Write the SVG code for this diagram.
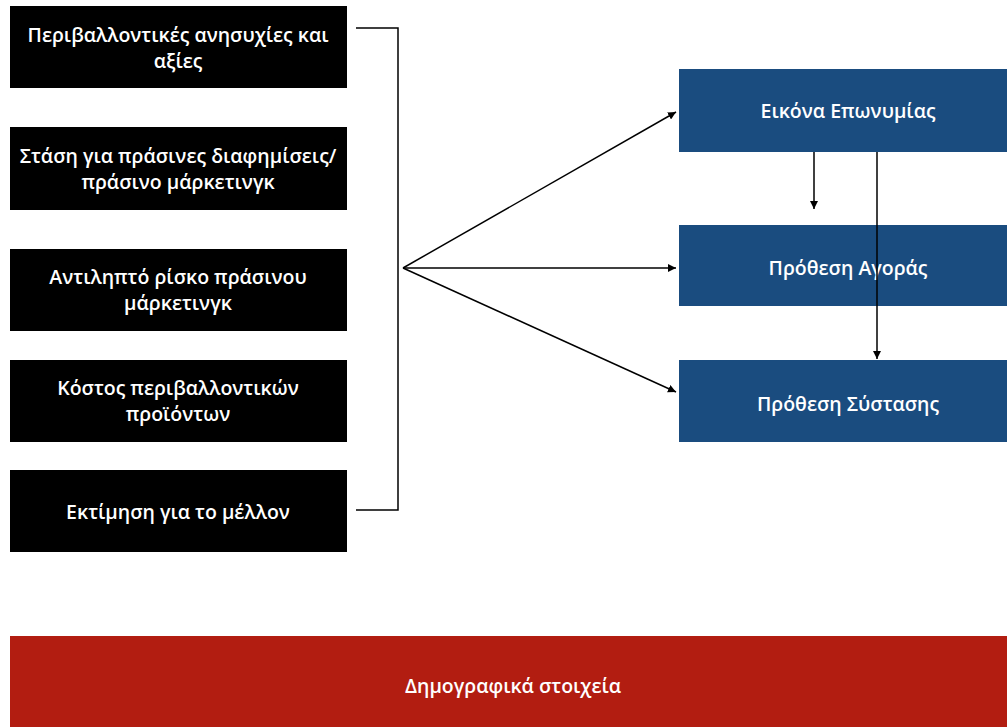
<svg xmlns="http://www.w3.org/2000/svg" width="1007" height="727" viewBox="0 0 1007 727">
<defs>
<style>
.t{font-family:"Open Sans","Liberation Sans",Arial,sans-serif;font-size:19.5px;font-weight:600;fill:#fff;text-anchor:middle;dominant-baseline:central}
.blk{fill:#000}
.blu{fill:#1a4c7f}
.red{fill:#b21d11}
.c{stroke:#000;stroke-width:1.5;fill:none}
</style>
<marker id="ah" viewBox="0 0 10 10" refX="10" refY="5" markerWidth="8" markerHeight="8" markerUnits="userSpaceOnUse" orient="auto">
<path d="M0,0 L10,5 L0,10 z" fill="#000"/>
</marker>
</defs>
<rect width="1007" height="727" fill="#fff"/>
<g id="n1"><rect class="blk" x="10" y="6" width="337" height="82"/><text class="t" x="178" y="34">Περιβαλλοντικές ανησυχίες και</text><text class="t" x="178" y="60">αξίες</text></g>
<g id="n2"><rect class="blk" x="10" y="127" width="337" height="83"/><text class="t" x="178" y="155">Στάση για πράσινες διαφημίσεις/</text><text class="t" x="178" y="181">πράσινο μάρκετινγκ</text></g>
<g id="n3"><rect class="blk" x="10" y="249" width="337" height="82"/><text class="t" x="178" y="276">Αντιληπτό ρίσκο πράσινου</text><text class="t" x="178" y="302">μάρκετινγκ</text></g>
<g id="n4"><rect class="blk" x="10" y="360" width="337" height="82"/><text class="t" x="178" y="387">Κόστος περιβαλλοντικών</text><text class="t" x="178" y="413">προϊόντων</text></g>
<g id="n5"><rect class="blk" x="10" y="470" width="337" height="82"/><text class="t" x="178" y="511">Εκτίμηση για το μέλλον</text></g>
<g id="b1"><rect class="blu" x="679" y="69" width="338" height="83"/><text class="t" x="848" y="110">Εικόνα Επωνυμίας</text></g>
<g id="b2"><rect class="blu" x="679" y="225" width="338" height="81"/><text class="t" x="848" y="267">Πρόθεση Αγοράς</text></g>
<g id="b3"><rect class="blu" x="679" y="360" width="338" height="82"/><text class="t" x="848" y="403">Πρόθεση Σύστασης</text></g>
<g id="d1"><rect class="red" x="10" y="636" width="1007" height="91"/><text class="t" x="513" y="685">Δημογραφικά στοιχεία</text></g>
<g id="connectors">
<path class="c" d="M356,28 H398 V510 H356"/>
<line class="c" x1="403" y1="268" x2="676" y2="112" marker-end="url(#ah)"/>
<line class="c" x1="403" y1="268" x2="676" y2="268" marker-end="url(#ah)"/>
<line class="c" x1="403" y1="268" x2="676" y2="392" marker-end="url(#ah)"/>
<line class="c" x1="814" y1="152" x2="814" y2="209" marker-end="url(#ah)"/>
<line class="c" x1="877" y1="152" x2="877" y2="359" marker-end="url(#ah)"/>
</g>
</svg>
